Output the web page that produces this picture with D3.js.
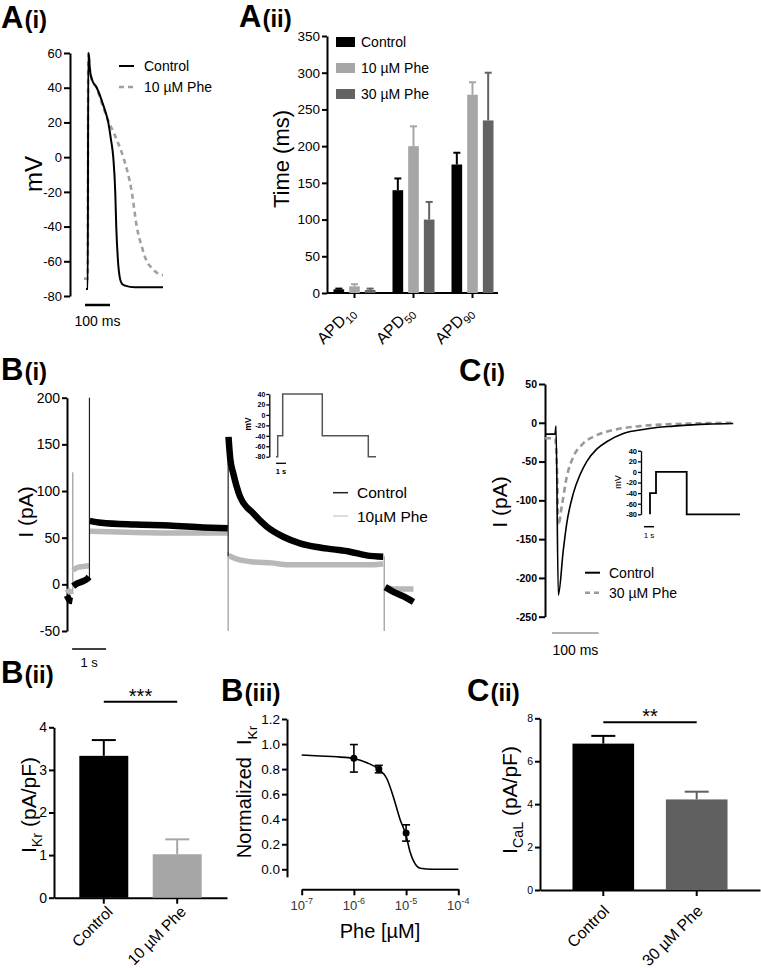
<!DOCTYPE html>
<html><head><meta charset="utf-8">
<script src="https://cdn.jsdelivr.net/npm/d3@7"></script>
<style>body{margin:0;background:#fff}</style>
</head><body>
<script>
// ================= DATA =================
// A(i) action potentials [time ms, mV]
const apTicks = [-80,-60,-40,-20,0,20,40,60];
const apControl = [[8,-76],[15,-76],[17,60],[19,59],[24,50],[31,45],[51,40],[77,30],[97,20],[108,10],[117,0],[125,-20],[129,-40],[136,-60],[144,-70],[152,-73],[164,-74],[204,-75],[316,-75]];
const apPhe10 = [[0,-70],[13,-70],[15,-70],[17,60],[19,59],[24,50],[31,45],[50,40],[74,30],[100,20],[116,15],[131,10],[157,0],[191,-20],[211,-40],[232,-52],[251,-60],[272,-64],[295,-67],[316,-68]];
const apSeriesNames = ["Control","10 µM Phe"];

// A(ii) APD bars
const apdCategories = ["APD10","APD50","APD90"];
const apdGroups = ["Control","10 µM Phe","30 µM Phe"];
const apdControl = [5,140,175];
const apdControlSEM = [1,16,16];
const apdPhe10 = [9,200,270];
const apdPhe10SEM = [3,27,17];
const apdPhe30 = [4,100,235];
const apdPhe30SEM = [2,24,65];
const apdTicks = [0,50,100,150,200,250,300,350];

// B(i) IKr traces [time s, pA], split into protocol segments
const ikrTicks = [-50,0,50,100,150,200];
const ikrControl = [
  [[0,-12],[0.08,-17],[0.16,-18]],
  [[0.18,-2],[0.3,1],[0.45,3],[0.6,6],[0.65,8]],
  [[0.67,68],[1.0,66],[2,64],[3,63],[4,61],[4.73,60]],
  [[4.75,158],[4.8,135],[4.89,119],[5.09,94],[5.48,76],[5.87,62],[6.36,51],[6.85,44],[7.34,40],[7.83,37.5],[8.32,35],[8.81,31],[9.3,29.5]],
  [[9.36,-3],[9.6,-8],[9.9,-13],[10.19,-19]]
];
const ikrPhe10 = [
  [[0,-5],[0.08,-8],[0.16,-7]],
  [[0.18,15],[0.3,18],[0.45,19],[0.65,20]],
  [[0.67,57],[1.5,56],[3,55],[4.73,55]],
  [[4.75,31],[5.0,27],[5.5,24],[6,23],[6.5,21],[7,21],[8,21],[9,21],[9.3,22]],
  [[9.36,-3],[9.6,-5],[10.19,-5]]
];
// capacitive transients [time s, low pA, high pA]
const ikrControlSpikes = [[0.66,6,200],[4.74,30,158]];
const ikrPheSpikes = [[0.17,-10,120],[4.74,-50,35],[9.33,-50,30]];
const ikrSeriesNames = ["Control","10µM Phe"];
// B(i) inset protocol [s, mV]
const ikrProtocol = [[0,-80],[0.17,-80],[0.17,-40],[0.67,-40],[0.67,40],[4.63,40],[4.63,-40],[9.23,-40],[9.23,-80],[10,-80]];
const protocolTicks = [-80,-60,-40,-20,0,20,40];

// C(i) ICaL traces [time ms, pA]
const icalTicks = [-250,-200,-150,-100,-50,0,50];
const icalControl = [[0,-14.6],[21.4,-14.6],[23.6,-4.3],[28.5,-222],[39.2,-164],[46.5,-130],[60.6,-91],[75,-67],[89.3,-50],[110.7,-34],[132,-24.5],[167.7,-13.7],[203,-9.4],[239,-6],[275,-4.3],[346,-1.7],[403,-0.9]];
const icalPhe30 = [[0,-20],[21.4,-20],[25.7,-60],[28.5,-132],[35.8,-108],[46.5,-70],[60.6,-44],[82,-26.5],[110.7,-16],[146,-9.4],[203,-4.3],[274,-1.7],[402.6,0]];
const icalSeriesNames = ["Control","30 µM Phe"];
const icalProtocol = [[0,-80],[0,-40],[0.6,-40],[0.6,0],[3.67,0],[3.67,-80],[9,-80]];

// B(ii) IKr density bars
const ikrBarCats = ["Control","10 µM Phe"];
const ikrBarMeans = [3.33,1.02];
const ikrBarSEM = [0.37,0.35];
const ikrBarTicks = [0,1,2,3,4];

// B(iii) concentration-response
const doseConc = [1e-6,3e-6,1e-5];
const doseMean = [0.886,0.80,0.29];
const doseSEM = [0.11,0.03,0.065];
const fitLogConc = [-7,-6.65,-6.33,-6.0,-5.75,-5.52,-5.37,-5.245,-5.117,-5.0,-4.925,-4.83,-4.73,-4.5,-4];
const fitValues = [0.913,0.905,0.898,0.885,0.851,0.797,0.725,0.58,0.40,0.27,0.14,0.045,0.008,0,0];
const doseYTicks = [0,0.2,0.4,0.6,0.8,1.0,1.2];
const doseXExps = [-7,-6,-5,-4];

// C(ii) ICaL density bars
const icalBarCats = ["Control","30 µM Phe"];
const icalBarMeans = [6.82,4.22];
const icalBarSEM = [0.36,0.36];
const icalBarTicks = [0,2,4,6,8];

// ================= DRAWING =================
const FONT = '"Liberation Sans", Arial, Helvetica, sans-serif';
const svg = d3.select("body").append("svg").attr("width",761).attr("height",968)
  .style("font-family",FONT).style("background","#fff");

function styleAxis(g, fs, bold, sw){
  g.attr("font-family",FONT);
  g.select(".domain").attr("stroke","#000").attr("stroke-width",sw);
  g.selectAll(".tick line").attr("stroke","#000").attr("stroke-width",sw);
  g.selectAll(".tick text").attr("font-size",fs).attr("font-family",FONT)
    .attr("font-weight",bold?"bold":"normal").attr("fill","#000");
}
function yAxis(scale, x, ticks, fs, o={}){
  const g = svg.append("g").attr("transform",`translate(${x},0)`)
    .call(d3.axisLeft(scale).tickValues(ticks).tickSize(o.tick||6).tickSizeOuter(0)
      .tickPadding(o.pad==null?2:o.pad).tickFormat(o.fmt||(d=>String(d))));
  styleAxis(g, fs, o.bold, o.sw||2);
  return g;
}
function title(x,y,big,small,fsB,fsS){
  const t = svg.append("text").attr("x",x).attr("y",y).attr("font-weight","bold").attr("fill","#000");
  t.append("tspan").attr("font-size",fsB).text(big);
  t.append("tspan").attr("font-size",fsS).attr("dx",1).text(small);
}
// rotated label: parts = [[text, isSub, dx]]
function vLabel(x,y,fs,parts){
  const t = svg.append("text").attr("transform",`translate(${x},${y}) rotate(-90)`)
    .attr("text-anchor","middle").attr("font-size",fs).attr("fill","#000");
  let sub=false;
  parts.forEach(p=>{
    const s = t.append("tspan").text(p[0]);
    if(p[2]) s.attr("dx",p[2]);
    if(p[1] && !sub){ s.attr("font-size",fs*0.68).attr("dy",fs*0.28); sub=true; }
    else if(!p[1] && sub){ s.attr("dy",-fs*0.28); sub=false; }
  });
  return t;
}

// ---------- A(i) ----------
title(1,28,"A","(i)",31,24);
{
  const x = d3.scaleLinear().domain([0,320]).range([84,164]);
  const y = d3.scaleLinear().domain([-80,60]).range([296,53]);
  yAxis(y,70,apTicks,13,{tick:6});
  vLabel(42,174,24,[["mV"]]);
  const line = d3.line().x(d=>x(d[0])).y(d=>y(d[1])).curve(d3.curveMonotoneX);
  svg.append("path").datum(apPhe10).attr("d",line).attr("fill","none")
    .attr("stroke","#a0a0a0").attr("stroke-width",2.6).attr("stroke-dasharray","5,4");
  svg.append("path").datum(apControl).attr("d",line).attr("fill","none")
    .attr("stroke","#000").attr("stroke-width",2);
  svg.append("line").attr("x1",x(4)).attr("x2",x(104)).attr("y1",305).attr("y2",305)
    .attr("stroke","#000").attr("stroke-width",2.5);
  svg.append("text").attr("x",(x(4)+x(104))/2).attr("y",326).attr("text-anchor","middle")
    .attr("font-size",14).text("100 ms");
  apSeriesNames.forEach((n,i)=>{
    const yy = 66+i*21;
    svg.append("line").attr("x1",119).attr("x2",134).attr("y1",yy).attr("y2",yy)
      .attr("stroke",i?"#a0a0a0":"#000").attr("stroke-width",i?2.6:2)
      .attr("stroke-dasharray",i?"5,4":null);
    svg.append("text").attr("x",144).attr("y",yy+5).attr("font-size",14).text(n);
  });
}

// ---------- A(ii) ----------
title(239,27,"A","(ii)",31,24);
{
  const x0 = d3.scaleBand().domain(apdCategories).range([325,502]);
  const x1 = d3.scaleBand().domain(apdGroups).range([-21,21]).paddingInner(0.32);
  const y = d3.scaleLinear().domain([0,350]).range([293,36]);
  yAxis(y,327,apdTicks,13.5,{tick:5});
  const gx = svg.append("g").attr("transform","translate(0,293)")
    .call(d3.axisBottom(x0).tickSize(5).tickSizeOuter(0).tickFormat(""));
  styleAxis(gx,13,false,2);
  gx.select(".domain").attr("d","M327,0H498");
  vLabel(289,159,22,[["Time (ms)"]]);
  const colors = ["#000","#a6a6a6","#636363"];
  const vals = [apdControl,apdPhe10,apdPhe30];
  const sems = [apdControlSEM,apdPhe10SEM,apdPhe30SEM];
  apdGroups.forEach((gname,gi)=>{
    apdCategories.forEach((c,ci)=>{
      const cx = x0(c)+x0.bandwidth()/2 + x1(gname);
      const v = vals[gi][ci], e = sems[gi][ci];
      const mid = cx+x1.bandwidth()/2;
      svg.append("line").attr("x1",mid).attr("x2",mid)
        .attr("y1",y(v)).attr("y2",y(v+e)).attr("stroke",colors[gi]).attr("stroke-width",2);
      svg.append("line").attr("x1",mid-3.5).attr("x2",mid+3.5)
        .attr("y1",y(v+e)).attr("y2",y(v+e)).attr("stroke",colors[gi]).attr("stroke-width",2);
      svg.append("rect").attr("x",cx).attr("width",x1.bandwidth())
        .attr("y",y(v)).attr("height",y(0)-y(v)).attr("fill",colors[gi]);
    });
    svg.append("rect").attr("x",336).attr("y",37+gi*26).attr("width",19).attr("height",10).attr("fill",colors[gi]);
    svg.append("text").attr("x",361).attr("y",47+gi*26).attr("font-size",14).text(gname);
  });
  apdCategories.forEach(c=>{
    const cx = x0(c)+x0.bandwidth()/2;
    const m = c.match(/^([A-Z]+)(\d+)$/);
    const t = svg.append("text").attr("transform",`translate(${cx+1},${313}) rotate(-45)`)
      .attr("text-anchor","end").attr("font-size",16);
    t.append("tspan").text(m[1]);
    t.append("tspan").attr("font-size",11).attr("dy",4).text(m[2]);
  });
}

// ---------- B(i) ----------
title(1,380,"B","(i)",31,24);
{
  const x = d3.scaleLinear().domain([0,10.2]).range([67,413.8]);
  const y = d3.scaleLinear().domain([-50,200]).range([631,397.7]);
  yAxis(y,67,ikrTicks,14,{tick:5});
  vLabel(33,512,21,[["I (pA)"]]);
  const line = d3.line().x(d=>x(d[0])).y(d=>y(d[1])).curve(d3.curveMonotoneX);
  ikrPheSpikes.forEach(s=>svg.append("line").attr("x1",x(s[0])).attr("x2",x(s[0]))
    .attr("y1",y(s[1])).attr("y2",y(s[2])).attr("stroke","#9a9a9a").attr("stroke-width",1.2));
  ikrPhe10.forEach(seg=>svg.append("path").datum(seg).attr("d",line).attr("fill","none")
    .attr("stroke","#b8b8b8").attr("stroke-width",5.5).attr("stroke-linejoin","round"));
  ikrControlSpikes.forEach(s=>svg.append("line").attr("x1",x(s[0])).attr("x2",x(s[0]))
    .attr("y1",y(s[1])).attr("y2",y(s[2])).attr("stroke","#222").attr("stroke-width",1.2));
  ikrControl.forEach(seg=>svg.append("path").datum(seg).attr("d",line).attr("fill","none")
    .attr("stroke","#000").attr("stroke-width",6.5).attr("stroke-linejoin","round"));
  svg.append("line").attr("x1",x(0.15)).attr("x2",x(1.15)).attr("y1",649).attr("y2",649)
    .attr("stroke","#000").attr("stroke-width",1.5);
  svg.append("text").attr("x",(x(0.15)+x(1.15))/2).attr("y",667).attr("text-anchor","middle")
    .attr("font-size",13).text("1 s");
  ikrSeriesNames.forEach((n,i)=>{
    const yy = 492.7+i*23.3;
    svg.append("line").attr("x1",333).attr("x2",348).attr("y1",yy).attr("y2",yy)
      .attr("stroke",i?"#d0d0d0":"#222").attr("stroke-width",1.5);
    svg.append("text").attr("x",357).attr("y",yy+5.5).attr("font-size",15.5).text(n);
  });
  const ix = d3.scaleLinear().domain([0,10]).range([276,376]);
  const iy = d3.scaleLinear().domain([-80,40]).range([456.7,394]);
  const gi = svg.append("g").attr("transform","translate(269.3,0)")
    .call(d3.axisLeft(iy).tickValues(protocolTicks).tickSize(3).tickSizeOuter(0).tickPadding(1).tickFormat(d=>String(d)));
  styleAxis(gi,7,true,1.3);
  svg.append("text").attr("transform","translate(251,424) rotate(-90)").attr("text-anchor","middle")
    .attr("font-size",8.5).attr("font-weight","bold").text("mV");
  svg.append("path").datum(ikrProtocol).attr("d",d3.line().x(d=>ix(d[0])).y(d=>iy(d[1])))
    .attr("fill","none").attr("stroke","#555").attr("stroke-width",1.5);
  svg.append("line").attr("x1",ix(0)).attr("x2",ix(1)).attr("y1",463.3).attr("y2",463.3)
    .attr("stroke","#000").attr("stroke-width",1.3);
  svg.append("text").attr("x",ix(0.5)).attr("y",474).attr("text-anchor","middle")
    .attr("font-size",7.5).attr("font-weight","bold").text("1 s");
}

// ---------- C(i) ----------
title(459,381,"C","(i)",31,24);
{
  const x = d3.scaleLinear().domain([0,410]).range([545,736.5]);
  const y = d3.scaleLinear().domain([-250,50]).range([616.7,384]);
  yAxis(y,545,icalTicks,10.5,{tick:6,bold:true});
  vLabel(507,502,21,[["I (pA)"]]);
  const line = d3.line().x(d=>x(d[0])).y(d=>y(d[1])).curve(d3.curveMonotoneX);
  svg.append("path").datum(icalPhe30).attr("d",line).attr("fill","none")
    .attr("stroke","#999").attr("stroke-width",2.6).attr("stroke-dasharray","6,4");
  svg.append("path").datum(icalControl).attr("d",line).attr("fill","none")
    .attr("stroke","#000").attr("stroke-width",1.6);
  svg.append("line").attr("x1",x(15)).attr("x2",x(115)).attr("y1",633).attr("y2",633)
    .attr("stroke","#999").attr("stroke-width",1.3);
  svg.append("text").attr("x",(x(15)+x(115))/2).attr("y",655).attr("text-anchor","middle")
    .attr("font-size",14).text("100 ms");
  icalSeriesNames.forEach((n,i)=>{
    const yy = 572.7+i*20;
    svg.append("line").attr("x1",585).attr("x2",600).attr("y1",yy).attr("y2",yy)
      .attr("stroke",i?"#999":"#000").attr("stroke-width",i?2.6:2).attr("stroke-dasharray",i?"5,4":null);
    svg.append("text").attr("x",609).attr("y",yy+5).attr("font-size",14).text(n);
  });
  const ix = d3.scaleLinear().domain([0,9]).range([650,740]);
  const iy = d3.scaleLinear().domain([-80,40]).range([514.3,450.7]);
  const gi = svg.append("g").attr("transform","translate(641,0)")
    .call(d3.axisLeft(iy).tickValues(protocolTicks).tickSize(3).tickSizeOuter(0).tickPadding(1).tickFormat(d=>String(d)));
  styleAxis(gi,7.5,true,1.3);
  svg.append("text").attr("transform","translate(621,482) rotate(-90)").attr("text-anchor","middle")
    .attr("font-size",9).text("mV");
  svg.append("path").datum(icalProtocol).attr("d",d3.line().x(d=>ix(d[0])).y(d=>iy(d[1])))
    .attr("fill","none").attr("stroke","#000").attr("stroke-width",1.8);
  svg.append("line").attr("x1",ix(-0.6)).attr("x2",ix(0.4)).attr("y1",526.7).attr("y2",526.7)
    .attr("stroke","#000").attr("stroke-width",1.5);
  svg.append("text").attr("x",ix(-0.1)).attr("y",538).attr("text-anchor","middle")
    .attr("font-size",8).text("1 s");
}

// bar chart helper
function barChart(o){
  const x = d3.scaleBand().domain(o.cats).range(o.xr).paddingInner(o.pi).paddingOuter(o.po);
  const y = d3.scaleLinear().domain([0,o.ymax]).range(o.yr);
  yAxis(y,o.xr[0],o.ticks,o.fs,{tick:5});
  const gx = svg.append("g").attr("transform",`translate(0,${o.yr[0]})`)
    .call(d3.axisBottom(x).tickSize(6).tickSizeOuter(0).tickFormat(""));
  styleAxis(gx,12,false,2);
  o.cats.forEach((c,i)=>{
    const bx = x(c), cx = bx + x.bandwidth()/2;
    const v = o.means[i], e = o.sem[i];
    svg.append("line").attr("x1",cx).attr("x2",cx).attr("y1",y(v)).attr("y2",y(v+e))
      .attr("stroke",o.colors[i]).attr("stroke-width",2);
    svg.append("line").attr("x1",cx-12).attr("x2",cx+12).attr("y1",y(v+e)).attr("y2",y(v+e))
      .attr("stroke",o.colors[i]).attr("stroke-width",2);
    svg.append("rect").attr("x",bx).attr("width",x.bandwidth()).attr("y",y(v))
      .attr("height",y(0)-y(v)).attr("fill",o.colors[i]);
    svg.append("text").attr("transform",`translate(${cx+o.lx},${o.yr[0]+o.ly}) rotate(-45)`)
      .attr("text-anchor","end").attr("font-size",o.lfs).text(c);
  });
  const c0 = x(o.cats[0])+x.bandwidth()/2, c1 = x(o.cats[1])+x.bandwidth()/2;
  svg.append("line").attr("x1",c0).attr("x2",c1).attr("y1",o.sigY).attr("y2",o.sigY)
    .attr("stroke","#000").attr("stroke-width",2);
  svg.append("text").attr("x",(c0+c1)/2).attr("y",o.sigY+1).attr("text-anchor","middle")
    .attr("font-size",20).text(o.sig);
}

// ---------- B(ii) ----------
title(1,683,"B","(ii)",31,24);
barChart({cats:ikrBarCats,means:ikrBarMeans,sem:ikrBarSEM,ticks:ikrBarTicks,ymax:4,
  xr:[54,227],yr:[897.7,727.3],pi:0.333,po:0.345,fs:14,colors:["#000","#a6a6a6"],
  lx:10,ly:15,lfs:15.5,sigY:701.7,sig:"***"});
vLabel(36,805,21,[["I"],["Kr",true],[" (pA/pF)"]]);

// ---------- B(iii) ----------
title(221,701,"B","(iii)",31,24);
{
  const x = d3.scaleLog().domain([1e-7,1e-4]).range([301.7,458.3]);
  const y = d3.scaleLinear().domain([-0.06,1.2]).range([876.8,719]);
  yAxis(y,287,doseYTicks,13.5,{tick:5,fmt:d3.format(".1f")});
  const gx = svg.append("g").attr("transform","translate(0,889.3)")
    .call(d3.axisBottom(x).tickValues(doseXExps.map(e=>Math.pow(10,e))).tickSize(6).tickSizeOuter(0).tickFormat(""));
  styleAxis(gx,13,false,2);
  doseXExps.forEach(e=>{
    const t = svg.append("text").attr("x",x(Math.pow(10,e))).attr("y",910).attr("text-anchor","middle")
      .attr("font-size",13).attr("fill","#333");
    t.append("tspan").text("10");
    t.append("tspan").attr("font-size",9).attr("dy",-6).text(String(e));
  });
  svg.append("text").attr("x",380).attr("y",938).attr("text-anchor","middle").attr("font-size",20).text("Phe [µM]");
  vLabel(251,792,20,[["Normalized"],["I",false,12],["Kr",true]]);
  const line = d3.line().x(d=>x(Math.pow(10,d[0]))).y(d=>y(d[1])).curve(d3.curveMonotoneX);
  svg.append("path").datum(fitLogConc.map((c,i)=>[c,fitValues[i]])).attr("d",line)
    .attr("fill","none").attr("stroke","#000").attr("stroke-width",1.6);
  doseConc.forEach((c,i)=>{
    const cx = x(c);
    const lo = y(doseMean[i]-doseSEM[i]), hi = y(doseMean[i]+doseSEM[i]);
    svg.append("line").attr("x1",cx).attr("x2",cx).attr("y1",lo).attr("y2",hi).attr("stroke","#000").attr("stroke-width",1.6);
    [lo,hi].forEach(yy=>svg.append("line").attr("x1",cx-4).attr("x2",cx+4).attr("y1",yy).attr("y2",yy)
      .attr("stroke","#000").attr("stroke-width",1.6));
    svg.append("circle").attr("cx",cx).attr("cy",y(doseMean[i])).attr("r",3.5).attr("fill","#000");
  });
}

// ---------- C(ii) ----------
title(467,701,"C","(ii)",31,24);
barChart({cats:icalBarCats,means:icalBarMeans,sem:icalBarSEM,ticks:icalBarTicks,ymax:8,
  xr:[540,760],yr:[890,718.3],pi:0.34,po:0.3477,fs:10.5,colors:["#000","#606060"],
  lx:7,ly:22,lfs:16,sigY:722.3,sig:"**"});
vLabel(517,800,21,[["I"],["CaL",true],[" (pA/pF)"]]);
</script>
</body></html>
